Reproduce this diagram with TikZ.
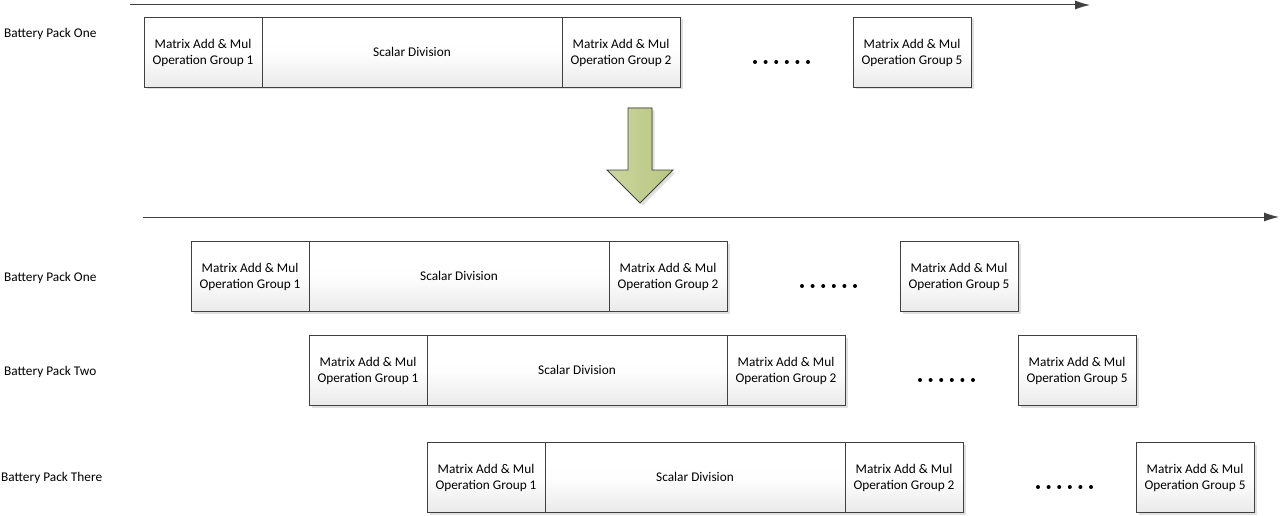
\documentclass[tikz,border=0pt]{standalone}
\usepackage{fontspec}
\setmainfont{Carlito}
\usetikzlibrary{positioning,shadows,arrows.meta}
\definecolor{linegray}{RGB}{64,64,64}
\definecolor{boxgray}{RGB}{234,234,234}
\definecolor{arrowgreen}{RGB}{184,198,128}
\definecolor{arrowlight}{RGB}{204,214,160}
\tikzset{
  opbox/.style={draw=linegray, top color=white, bottom color=boxgray, middle color=white!97!boxgray,
    minimum height=70pt, inner sep=0pt, outer sep=0pt, align=center,
    font=\fontsize{13.3}{16}\selectfont, text depth=-1.5pt,
    drop shadow={shadow xshift=2.5pt, shadow yshift=-2.5pt, fill=black!12, opacity=1}},
  groupbox/.style={opbox, minimum width=118pt},
  divbox/.style={opbox, minimum width=300pt},
  packlabel/.style={anchor=west, inner sep=0pt, font=\fontsize{13.3}{16}\selectfont},
  dot/.style={circle, fill=black, inner sep=0pt, minimum size=4pt},
  timeline/.style={draw=linegray, line width=1pt, -{Latex[length=15pt, width=9pt]}}
}
\begin{document}
\begin{tikzpicture}[x=1pt, y=-1pt]
\useasboundingbox (0,0) rectangle (1281,516);
% timeline before
\coordinate (t0s) at (130,5);
\coordinate (t0e) at (1090,5);
\draw[timeline] (t0s) -- (t0e);
% one battery pack
\node[packlabel] (p0) at (4,34) {Battery Pack One};
\node[groupbox, anchor=north west] (p0g1) at (144,17) {Matrix Add \& Mul\\Operation Group 1};
\node[divbox, right=0pt of p0g1] (p0div) {Scalar Division};
\node[groupbox, right=0pt of p0div] (p0g2) {Matrix Add \& Mul\\Operation Group 2};
\node[groupbox, right=173pt of p0g2] (p0g5) {Matrix Add \& Mul\\Operation Group 5};
\foreach \i in {0,...,5}
  \node[dot] (p0d\i) at ([xshift={75pt+\i*10.6pt}, yshift=-10pt]p0g2.east) {};
% big arrow
\filldraw[draw=linegray, line width=0.8pt, left color=arrowlight, right color=arrowgreen,
  drop shadow={shadow xshift=2.5pt, shadow yshift=-2.5pt, fill=black!12, opacity=1}]
  (628,108) -- (652,108) -- (652,170) -- (673,170) -- (640,203) -- (607,170) -- (628,170) -- cycle;
% timeline after
\coordinate (t1s) at (143,217);
\coordinate (t1e) at (1279,217);
\draw[timeline] (t1s) -- (t1e);
% battery pack one
\node[packlabel] (p1) at (4,278) {Battery Pack One};
\node[groupbox, anchor=north west] (p1g1) at (191,241) {Matrix Add \& Mul\\Operation Group 1};
\node[divbox, right=0pt of p1g1] (p1div) {Scalar Division};
\node[groupbox, right=0pt of p1div] (p1g2) {Matrix Add \& Mul\\Operation Group 2};
\node[groupbox, right=173pt of p1g2] (p1g5) {Matrix Add \& Mul\\Operation Group 5};
\foreach \i in {0,...,5}
  \node[dot] (p1d\i) at ([xshift={75pt+\i*10.6pt}, yshift=-10pt]p1g2.east) {};
% battery pack two
\node[packlabel] (p2) at (4,372) {Battery Pack Two};
\node[groupbox, anchor=north west] (p2g1) at (309,335) {Matrix Add \& Mul\\Operation Group 1};
\node[divbox, right=0pt of p2g1] (p2div) {Scalar Division};
\node[groupbox, right=0pt of p2div] (p2g2) {Matrix Add \& Mul\\Operation Group 2};
\node[groupbox, right=173pt of p2g2] (p2g5) {Matrix Add \& Mul\\Operation Group 5};
\foreach \i in {0,...,5}
  \node[dot] (p2d\i) at ([xshift={75pt+\i*10.6pt}, yshift=-10pt]p2g2.east) {};
% battery pack three
\node[packlabel] (p3) at (1,478) {Battery Pack There};
\node[groupbox, anchor=north west] (p3g1) at (427,442) {Matrix Add \& Mul\\Operation Group 1};
\node[divbox, right=0pt of p3g1] (p3div) {Scalar Division};
\node[groupbox, right=0pt of p3div] (p3g2) {Matrix Add \& Mul\\Operation Group 2};
\node[groupbox, right=173pt of p3g2] (p3g5) {Matrix Add \& Mul\\Operation Group 5};
\foreach \i in {0,...,5}
  \node[dot] (p3d\i) at ([xshift={75pt+\i*10.6pt}, yshift=-10pt]p3g2.east) {};
\end{tikzpicture}
\end{document}
